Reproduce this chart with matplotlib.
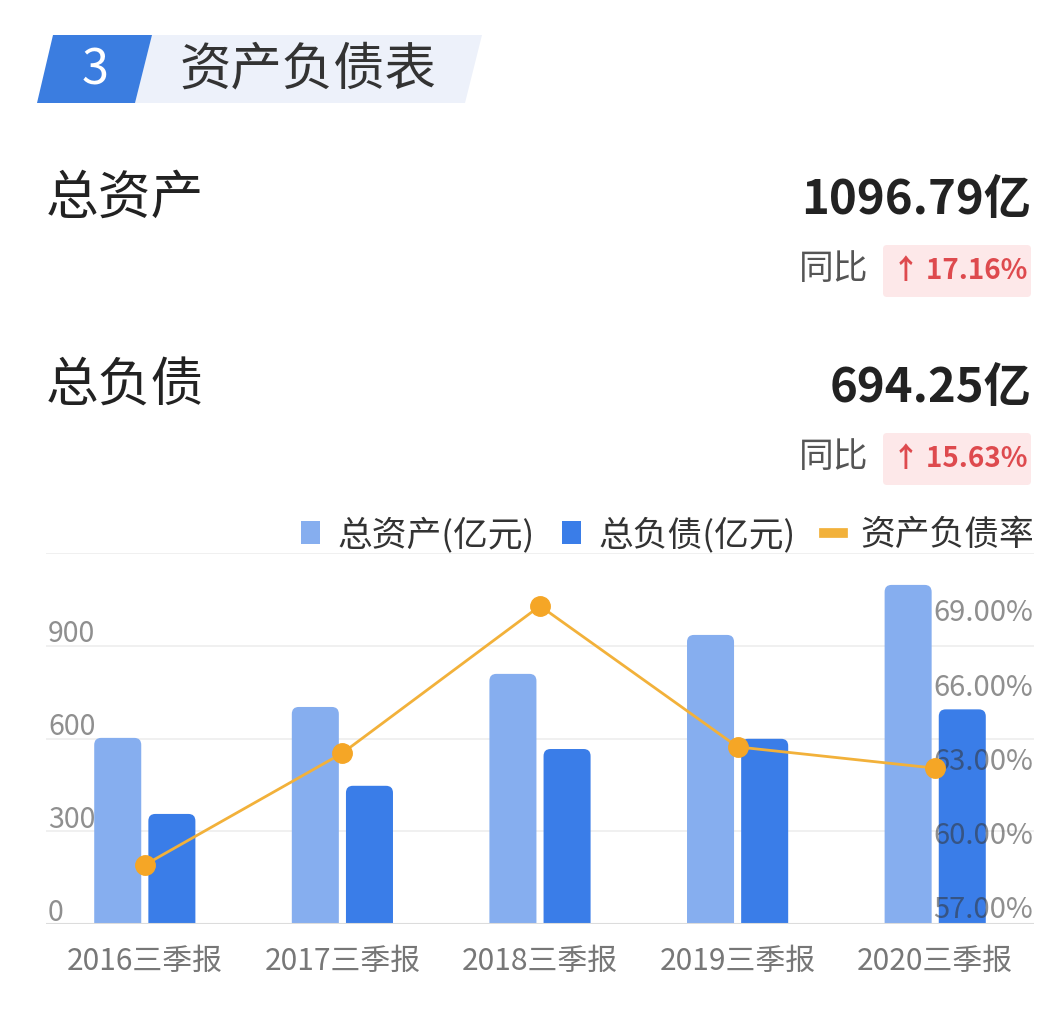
import matplotlib
matplotlib.use("Agg")
import matplotlib.pyplot as plt
import numpy as np
from matplotlib.patches import Polygon, FancyBboxPatch, Patch
from matplotlib.lines import Line2D
from matplotlib.transforms import blended_transform_factory

plt.rcParams['font.family'] = ['Noto Sans CJK SC', 'DejaVu Sans']

W, H = 1044, 1034

# data
periods = ["2016三季报", "2017三季报", "2018三季报", "2019三季报", "2020三季报"]
total_assets = [602, 702, 809, 935, 1096.79]       # 亿元
total_liabs = [356, 447, 566, 599, 694.25]          # 亿元
debt_ratio = [59.39, 63.91, 69.86, 64.16, 63.30]    # %
left_ticks = [0, 300, 600, 900]
right_ticks = [57, 60, 63, 66, 69]

summary = [("总资产", "1096.79亿", "17.16%"), ("总负债", "694.25亿", "15.63%")]

C_ASSET = "#86aeef"
C_LIAB = "#3a7de8"
C_RATIO = "#f2b13a"

fig = plt.figure(figsize=(W / 100, H / 100), dpi=100)
fig.patch.set_facecolor("white")

# overlay in pixel coords for the header part
ov = fig.add_axes([0, 0, 1, 1])
ov.set_xlim(0, W)
ov.set_ylim(H, 0)
ov.axis("off")

ov.add_patch(Polygon([(152, 35), (482, 35), (465, 103), (135, 103)], closed=True,
                     facecolor="#edf1fa", edgecolor="none"))
ov.add_patch(Polygon([(53, 35), (152, 35), (135, 103), (37, 103)], closed=True,
                     facecolor="#3b7de0", edgecolor="none"))
ov.text(95, 71, "3", color="white", fontsize=35, ha="center", va="center", fontweight="medium")
ov.text(179, 70, "资产负债表", color="#333333", fontsize=37, ha="left", va="center")

for i, (name, val, yoy) in enumerate(summary):
    y0 = 198 + i * 188
    ov.text(46, y0, name, color="#222222", fontsize=38, ha="left", va="center")
    ov.text(1031, y0 + 2, val, color="#222222", fontsize=34, ha="right", va="center",
            fontweight="bold")
    ov.text(868, y0 + 72, "同比", color="#555555", fontsize=25, ha="right", va="center")
    ov.add_patch(FancyBboxPatch((883, y0 + 47), 148, 52, boxstyle="round,pad=0,rounding_size=4",
                                facecolor="#fde8e9", edgecolor="none"))
    ov.text(1027, y0 + 73, "↑ " + yoy, color="#de4a4e", fontsize=20, ha="right", va="center",
            fontweight="bold")

# chart
ax = fig.add_axes([46 / W, 110 / H, 988 / W, 371 / H])
ax.set_facecolor("none")
x = np.arange(len(periods))
bw = 0.238
off = 0.137

bars1 = ax.bar(x - off, total_assets, bw, color=C_ASSET, zorder=2)
bars2 = ax.bar(x + off, total_liabs, bw, color=C_LIAB, zorder=2)
for bars, col in ((bars1, C_ASSET), (bars2, C_LIAB)):
    for b in bars:
        bx, by = b.get_x(), b.get_y()
        bwid, bh = b.get_width(), b.get_height()
        b.set_visible(False)
        ax.add_patch(FancyBboxPatch((bx, by - 40), bwid, bh + 40,
                                    boxstyle="round,pad=0,rounding_size=0.035",
                                    mutation_aspect=650, facecolor=col, edgecolor="none",
                                    zorder=2))

ax.set_xlim(-0.5, len(periods) - 0.5)
ax.set_ylim(0, 1200)
for v in [300, 600, 900, 1200]:
    ax.axhline(v, color="#eeeeee", lw=1.2, zorder=0)
ax.axhline(0, color="#dcdcdc", lw=1.5, zorder=3)

for v in left_ticks:
    ax.text(0.002, v - 12, str(v), transform=ax.get_yaxis_transform(), color="#333333",
            alpha=0.55, fontsize=20.5, ha="left", va="bottom", zorder=4)

ax.set_xticks(x, periods)
ax.tick_params(axis="x", length=0, pad=16, labelsize=21.5, labelcolor="#777777")
ax.set_yticks([])
for s in ax.spines.values():
    s.set_visible(False)

ax2 = ax.twinx()
ax2.set_ylim(57, 72)
ax2.plot(x, debt_ratio, color=C_RATIO, lw=2, marker="o", ms=14,
         markerfacecolor="#f5a626", markeredgecolor="#f5a626", zorder=5)
ax2.set_yticks([])
for s in ax2.spines.values():
    s.set_visible(False)

tr = blended_transform_factory(ax.transAxes, ax2.transData)
for p in right_ticks:
    ax.text(0.999, p - 0.05, f"{p:.2f}%", transform=tr, color="#333333", alpha=0.55,
            fontsize=21, ha="right", va="bottom", zorder=4)

handles = [Patch(facecolor=C_ASSET, edgecolor="none"),
           Patch(facecolor=C_LIAB, edgecolor="none"),
           Line2D([0], [0], color=C_RATIO, lw=7)]
ax.legend(handles, ["总资产(亿元)", "总负债(亿元)", "资产负债率"], ncol=3, loc="lower right",
          bbox_to_anchor=(1.0, 1.0), frameon=False, fontsize=25, handlelength=0.55,
          handleheight=0.65, handletextpad=0.5, columnspacing=0.8, borderaxespad=0.0,
          borderpad=0.0, labelcolor="#333333")

fig.savefig("out.png", dpi=100, facecolor="white")
